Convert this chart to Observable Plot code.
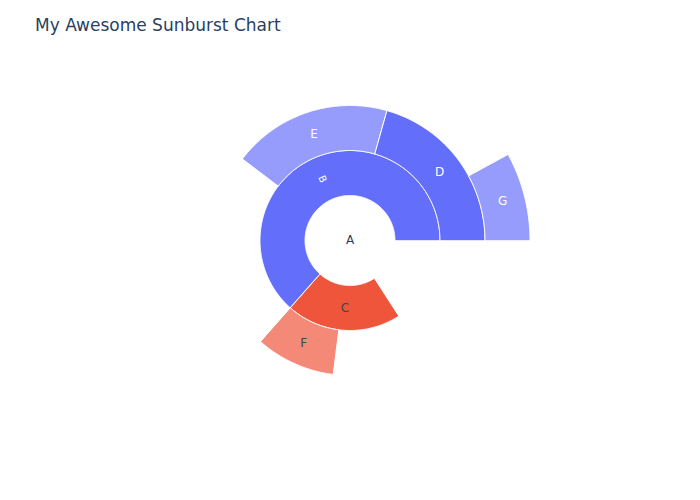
<!DOCTYPE html>
<html>
<head>
<meta charset="utf-8">
<script src="https://cdn.jsdelivr.net/npm/d3@7"></script>
<script src="https://cdn.jsdelivr.net/npm/@observablehq/plot@0.6"></script>
<style>
  html, body { margin: 0; padding: 0; background: #fff; }
  #wrap { position: relative; width: 700px; height: 500px; }
  #title { position: absolute; left: 35px; top: 14px; font-family: "DejaVu Sans", Verdana, sans-serif; font-size: 17px; line-height: 22px; color: #2a3f5f; white-space: nowrap; }
</style>
</head>
<body>
<div id="wrap">
  <div id="chart"></div>
  <div id="title">My Awesome Sunburst Chart</div>
</div>
<script>
// ---- data ----
const labels  = ["A", "B", "C", "D", "E", "F", "G"];
const parents = ["",  "A", "A", "B", "B", "C", "D"];
const values  = [10, 15, 7, 8, 12, 6, 5];
const colors  = ["#ffffff", "#636efa", "#ef553b", "#636efa", "#959cfb", "#f58977", "#959cfb"];
const textColors = ["#2a3f5f", "#ffffff", "#444444", "#ffffff", "#ffffff", "#444444", "#ffffff"];

// ---- hierarchy (branchvalues: remainder) ----
const rows = labels.map((l, i) => ({id: l, parent: parents[i] || null, value: values[i], color: colors[i], textColor: textColors[i]}));
const root = d3.stratify().id(d => d.id).parentId(d => d.parent)(rows);
root.sum(d => d.value);
root.a0 = 0; root.a1 = 360;
root.eachBefore(n => {
  if (!n.children) return;
  let a = n.a0;
  const k = (n.a1 - n.a0) / n.value;
  for (const c of n.children) { c.a0 = a; c.a1 = a + c.value * k; a = c.a1; }
});
const nodes = root.descendants();

// sector outline points in data units (ring thickness = 1)
const pts = [];
for (const n of nodes) {
  const r0 = n.depth === 0 ? 0 : n.depth, r1 = n.depth + 1;
  const steps = Math.max(2, Math.ceil((n.a1 - n.a0) / 0.5));
  for (let s = 0; s <= steps; s++) {
    const t = (n.a0 + (n.a1 - n.a0) * s / steps) * Math.PI / 180;
    pts.push({id: n.id, color: n.data.color, x: r1 * Math.cos(t), y: r1 * Math.sin(t)});
  }
  if (r0 > 0) {
    for (let s = steps; s >= 0; s--) {
      const t = (n.a0 + (n.a1 - n.a0) * s / steps) * Math.PI / 180;
      pts.push({id: n.id, color: n.data.color, x: r0 * Math.cos(t), y: r0 * Math.sin(t)});
    }
  }
}

const labelData = nodes.map(n => {
  const am = (n.a0 + n.a1) / 2 * Math.PI / 180;
  const r = n.depth === 0 ? 0 : n.depth + 0.5;
  const deg = (n.a0 + n.a1) / 2;
  const rot = n.id === "B" ? 180 - deg : 0;
  return {label: n.id, x: r * Math.cos(am), y: r * Math.sin(am), fill: n.data.textColor, rotate: rot, size: n.id === "B" ? 10 : 12};
});

const unit = 45; // px per ring
const cx = 349.5, cy = 240;
const chart = Plot.plot({
  width: 700,
  height: 500,
  margin: 0,
  x: {domain: [-cx / unit, (700 - cx) / unit], axis: null},
  y: {domain: [-(500 - cy) / unit, cy / unit], axis: null},
  color: {type: "identity"},
  style: {fontFamily: "'DejaVu Sans', Verdana, sans-serif", background: "#fff"},
  marks: [
    Plot.line(pts, {x: "x", y: "y", z: "id", fill: "color", stroke: "#ffffff", strokeWidth: 1, curve: "linear-closed"}),
    ...[10, 12].map(sz => Plot.text(labelData.filter(d => d.size === sz), {x: "x", y: "y", text: "label", fill: "fill", rotate: "rotate", fontSize: sz}))
  ]
});
document.getElementById("chart").appendChild(chart);
</script>
</body>
</html>
